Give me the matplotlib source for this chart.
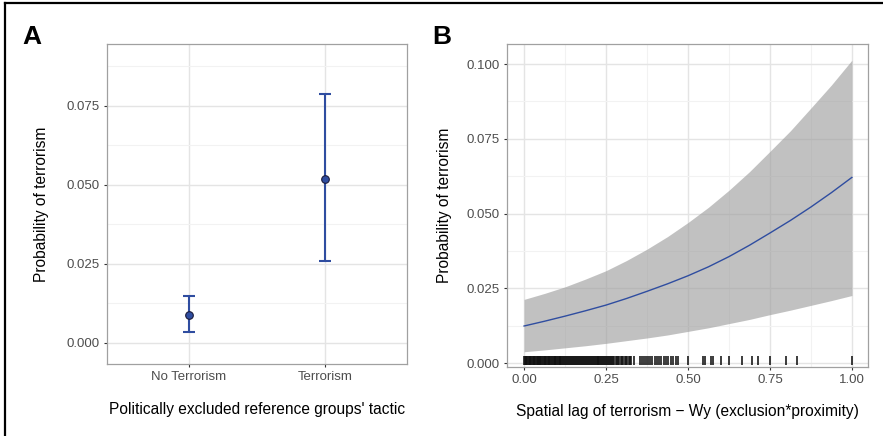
import matplotlib
matplotlib.use('Agg')
import matplotlib.pyplot as plt
import numpy as np
from matplotlib.lines import Line2D
import matplotlib.transforms as mtransforms

plt.rcParams['font.family'] = ['Liberation Sans', 'DejaVu Sans']

# panel A: predicted probability by reference groups' tactic
categories = ["No Terrorism", "Terrorism"]
est = [0.0089, 0.0519]
ci_low = [0.0035, 0.0260]
ci_high = [0.0149, 0.0788]

# panel B: predicted probability along spatial lag
wy = [0.0, 0.0625, 0.125, 0.1875, 0.25, 0.3125, 0.375, 0.4375, 0.5,
      0.5625, 0.625, 0.6875, 0.75, 0.8125, 0.875, 0.9375, 1.0]
fit = [0.0124, 0.0140, 0.0157, 0.0175, 0.0194, 0.0216, 0.0240, 0.0265, 0.0292,
       0.0322, 0.0356, 0.0394, 0.0435, 0.0477, 0.0522, 0.0570, 0.0621]
band_low = [0.0038, 0.0044, 0.0051, 0.0058, 0.0066, 0.0075, 0.0084, 0.0094, 0.0106,
            0.0118, 0.0132, 0.0146, 0.0162, 0.0177, 0.0193, 0.0209, 0.0226]
band_high = [0.0213, 0.0233, 0.0255, 0.0281, 0.0309, 0.0343, 0.0381, 0.0423, 0.0470,
             0.0521, 0.0578, 0.0640, 0.0708, 0.0777, 0.0853, 0.0930, 0.1013]

# observed values of the spatial lag (rug)
rug = [0.000, 0.002, 0.005, 0.007, 0.009, 0.012, 0.014, 0.017, 0.019, 0.021,
       0.024, 0.026, 0.029, 0.031, 0.033, 0.036, 0.038, 0.041, 0.043, 0.046,
       0.048, 0.050, 0.053, 0.055, 0.058, 0.060, 0.063, 0.065, 0.068, 0.070,
       0.072, 0.075, 0.077, 0.080, 0.083, 0.085, 0.088, 0.090, 0.093, 0.095,
       0.098, 0.101, 0.103, 0.106, 0.109, 0.111, 0.114, 0.117, 0.120, 0.122,
       0.125, 0.128, 0.131, 0.134, 0.137, 0.140, 0.143, 0.146, 0.149, 0.152,
       0.155, 0.158, 0.161, 0.164, 0.167, 0.170, 0.173, 0.176, 0.179, 0.182,
       0.185, 0.188, 0.191, 0.194, 0.197, 0.200, 0.203, 0.206, 0.209, 0.212,
       0.215, 0.218, 0.221, 0.224, 0.227, 0.230, 0.233, 0.236, 0.239, 0.242,
       0.245, 0.248, 0.251, 0.254, 0.257, 0.260, 0.263, 0.266, 0.269, 0.272,
       0.275, 0.279, 0.283, 0.287, 0.291, 0.295, 0.299, 0.303, 0.307, 0.311,
       0.315, 0.319, 0.323, 0.327, 0.336, 0.354, 0.360, 0.366, 0.372, 0.378,
       0.384, 0.390, 0.398, 0.405, 0.412, 0.418, 0.426, 0.432, 0.440, 0.447,
       0.455, 0.462, 0.470, 0.499, 0.547, 0.553, 0.569, 0.575, 0.600, 0.624,
       0.665, 0.695, 0.713, 0.749, 0.799, 0.833, 1.000]

blue = '#2F4DA0'
grid_major = '#E4E4E4'
grid_minor = '#F2F2F2'
border = '#A0A0A0'
tick_col = '#4D4D4D'


def style_axes(ax):
    for s in ax.spines.values():
        s.set_color(border)
        s.set_linewidth(0.9)
    ax.tick_params(axis='both', which='major', length=2.5, width=0.8, color='#333333',
                   labelsize=9.5, labelcolor=tick_col, pad=2.5)
    ax.tick_params(axis='both', which='minor', length=0)
    ax.grid(True, which='major', color=grid_major, lw=1.0)
    ax.grid(True, which='minor', color=grid_minor, lw=0.8)
    ax.set_axisbelow(True)


fig = plt.figure(figsize=(8.83, 4.36), dpi=100)

# ---- panel A
ax1 = fig.add_axes([0.1212, 0.1651, 0.3397, 0.7340])
xpos = np.arange(1, len(categories) + 1)
yerr = [np.array(est) - np.array(ci_low), np.array(ci_high) - np.array(est)]
ax1.errorbar(xpos, est, yerr=yerr, fmt='none', ecolor=blue, elinewidth=1.5,
             capsize=4.5, capthick=1.5, zorder=3)
ax1.scatter(xpos, est, s=30, color=blue, edgecolor='#1A1A3A', linewidth=0.8, zorder=4)
ax1.set_xlim(0.4, 2.6)
ax1.set_ylim(-0.00675, 0.0946)
ax1.set_xticks(xpos)
ax1.set_xticklabels(categories)
ax1.set_yticks([0.0, 0.025, 0.05, 0.075])
ax1.set_yticklabels(['0.000', '0.025', '0.050', '0.075'])
ax1.set_yticks([0.0125, 0.0375, 0.0625, 0.0875], minor=True)
style_axes(ax1)
ax1.grid(False, axis='x', which='minor')
ax1.set_ylabel('Probability of terrorism', fontsize=11.2, labelpad=13)
ax1.set_xlabel("Politically excluded reference groups' tactic", fontsize=11.2, labelpad=14)

# ---- panel B
ax2 = fig.add_axes([0.5742, 0.1583, 0.4088, 0.7408])
ax2.fill_between(wy, band_low, band_high, color='#999999', alpha=0.6, lw=0, zorder=2)
ax2.plot(wy, fit, color=blue, lw=1.0, zorder=3)
trans = mtransforms.blended_transform_factory(ax2.transData, ax2.transAxes)
ax2.vlines(rug, 0.005, 0.035, colors='#111111', lw=1.15, transform=trans, zorder=4)
ax2.set_xlim(-0.052, 1.049)
ax2.set_ylim(-0.0013, 0.1067)
ax2.set_xticks([0, 0.25, 0.5, 0.75, 1.0])
ax2.set_xticklabels(['0.00', '0.25', '0.50', '0.75', '1.00'])
ax2.set_xticks([0.125, 0.375, 0.625, 0.875], minor=True)
ax2.set_yticks([0.0, 0.025, 0.05, 0.075, 0.1])
ax2.set_yticklabels(['0.000', '0.025', '0.050', '0.075', '0.100'])
ax2.set_yticks([0.0125, 0.0375, 0.0625, 0.0875], minor=True)
style_axes(ax2)
ax2.set_ylabel('Probability of terrorism', fontsize=11.2, labelpad=11)
ax2.set_xlabel('Spatial lag of terrorism \u2212 Wy (exclusion*proximity)', fontsize=11.2, labelpad=13)

# panel letters
fig.text(0.025, 0.90, 'A', fontsize=19, fontweight='bold', ha='left', va='baseline')
fig.text(0.490, 0.90, 'B', fontsize=19, fontweight='bold', ha='left', va='baseline')

# outer frame (top and left edges)
fig.add_artist(Line2D([0.0057, 1.0], [0.9935, 0.9935], transform=fig.transFigure, color='black', lw=1.6))
fig.add_artist(Line2D([0.0057, 0.0057], [0.0, 0.9935], transform=fig.transFigure, color='black', lw=1.6))

fig.savefig('out.png', dpi=100)
